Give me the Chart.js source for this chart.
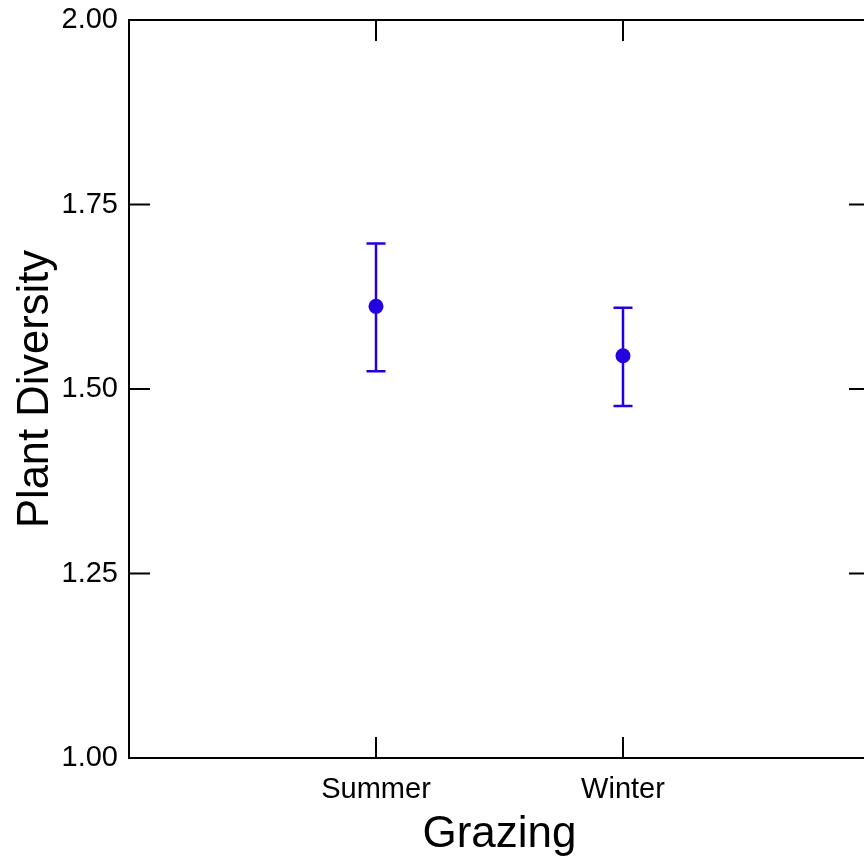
<!DOCTYPE html>
<html>
<head>
<meta charset="utf-8">
<script src="https://cdn.jsdelivr.net/npm/chart.js@4"></script>
<style>
  html, body { margin: 0; padding: 0; background: #fff; overflow: hidden; }
  canvas { display: block; }
</style>
</head>
<body>
<canvas id="plotChart" width="880" height="861"></canvas>
<script>
      // data
      const categories = ["Summer", "Winter"];
      const means = [1.612, 1.545];
      const upper = [1.697, 1.610];
      const lower = [1.524, 1.477];
      const yTicks = [1.0, 1.25, 1.5, 1.75, 2.0];

      const markColor = "#2400e0";
      const fontFamily = "'Liberation Sans', Arial, sans-serif";

      // box round the plot with ticks pointing inwards, plus error bars
      const framePlugin = {
        id: "frame",
        beforeDatasetsDraw(chart) {
          const ctx = chart.ctx;
          const xs = chart.scales.x;
          const ys = chart.scales.y;
          ctx.save();
          ctx.strokeStyle = markColor;
          ctx.lineWidth = 2.5;
          means.forEach((m, i) => {
            const px = Math.round(xs.getPixelForValue(i + 1));
            const top = ys.getPixelForValue(upper[i]);
            const bot = ys.getPixelForValue(lower[i]);
            ctx.beginPath();
            ctx.moveTo(px, top);
            ctx.lineTo(px, bot);
            ctx.moveTo(px - 9.5, top);
            ctx.lineTo(px + 9.5, top);
            ctx.moveTo(px - 9.5, bot);
            ctx.lineTo(px + 9.5, bot);
            ctx.stroke();
          });
          ctx.restore();
        },
        afterDraw(chart) {
          const ctx = chart.ctx;
          const a = chart.chartArea;
          const xs = chart.scales.x;
          const ys = chart.scales.y;
          const len = 21;
          ctx.save();
          ctx.strokeStyle = "#000";
          ctx.lineWidth = 2;
          ctx.strokeRect(a.left, a.top, a.right - a.left, a.bottom - a.top);
          ctx.beginPath();
          yTicks.forEach((v) => {
            const py = ys.getPixelForValue(v);
            ctx.moveTo(a.left, py);
            ctx.lineTo(a.left + len, py);
            ctx.moveTo(a.right, py);
            ctx.lineTo(a.right - len, py);
          });
          categories.forEach((c, i) => {
            const px = xs.getPixelForValue(i + 1);
            ctx.moveTo(px, a.top);
            ctx.lineTo(px, a.top + len);
            ctx.moveTo(px, a.bottom);
            ctx.lineTo(px, a.bottom - len);
          });
          ctx.stroke();
          ctx.restore();
        },
      };

      const ctx = document.getElementById("plotChart").getContext("2d");

      const chart = new Chart(ctx, {
        type: "scatter",
        data: {
          datasets: [
            {
              label: "Plant Diversity",
              data: means.map((m, i) => ({ x: i + 1, y: m })),
              backgroundColor: markColor,
              borderColor: markColor,
              pointRadius: 7.5,
              pointHoverRadius: 7.5,
              borderWidth: 0,
            },
          ],
        },
        options: {
          responsive: false,
          animation: false,
          layout: { padding: { top: 20, right: 10, bottom: 0, left: 0 } },
          plugins: {
            legend: { display: false },
            tooltip: { enabled: false },
          },
          scales: {
            x: {
              type: "linear",
              min: 0,
              max: categories.length + 1,
              grid: { display: false, drawTicks: false },
              border: { display: false },
              afterFit(scale) {
                scale.height = 103;
                scale.paddingLeft = 0;
                scale.paddingRight = 0;
              },
              afterBuildTicks(scale) {
                scale.ticks = categories.map((c, i) => ({ value: i + 1 }));
              },
              ticks: {
                padding: 15,
                maxRotation: 0,
                color: "#000",
                font: { family: fontFamily, size: 29 },
                callback: (v) => categories[v - 1] || "",
              },
              title: {
                display: true,
                text: "Grazing",
                color: "#000",
                padding: { top: 0, bottom: 0 },
                font: { family: fontFamily, size: 44 },
              },
            },
            y: {
              min: 1,
              max: 2,
              grid: { display: false, drawTicks: false },
              border: { display: false },
              afterFit(scale) {
                scale.width = 129;
                scale.paddingTop = 0;
                scale.paddingBottom = 0;
              },
              afterBuildTicks(scale) {
                scale.ticks = yTicks.map((v) => ({ value: v }));
              },
              ticks: {
                padding: 11,
                color: "#000",
                font: { family: fontFamily, size: 29 },
                callback: (v) => Number(v).toFixed(2),
              },
              title: {
                display: true,
                text: "Plant Diversity",
                color: "#000",
                padding: { top: 10, bottom: 0 },
                font: { family: fontFamily, size: 43.5 },
              },
            },
          },
        },
        plugins: [framePlugin],
      });
</script>
</body>
</html>
